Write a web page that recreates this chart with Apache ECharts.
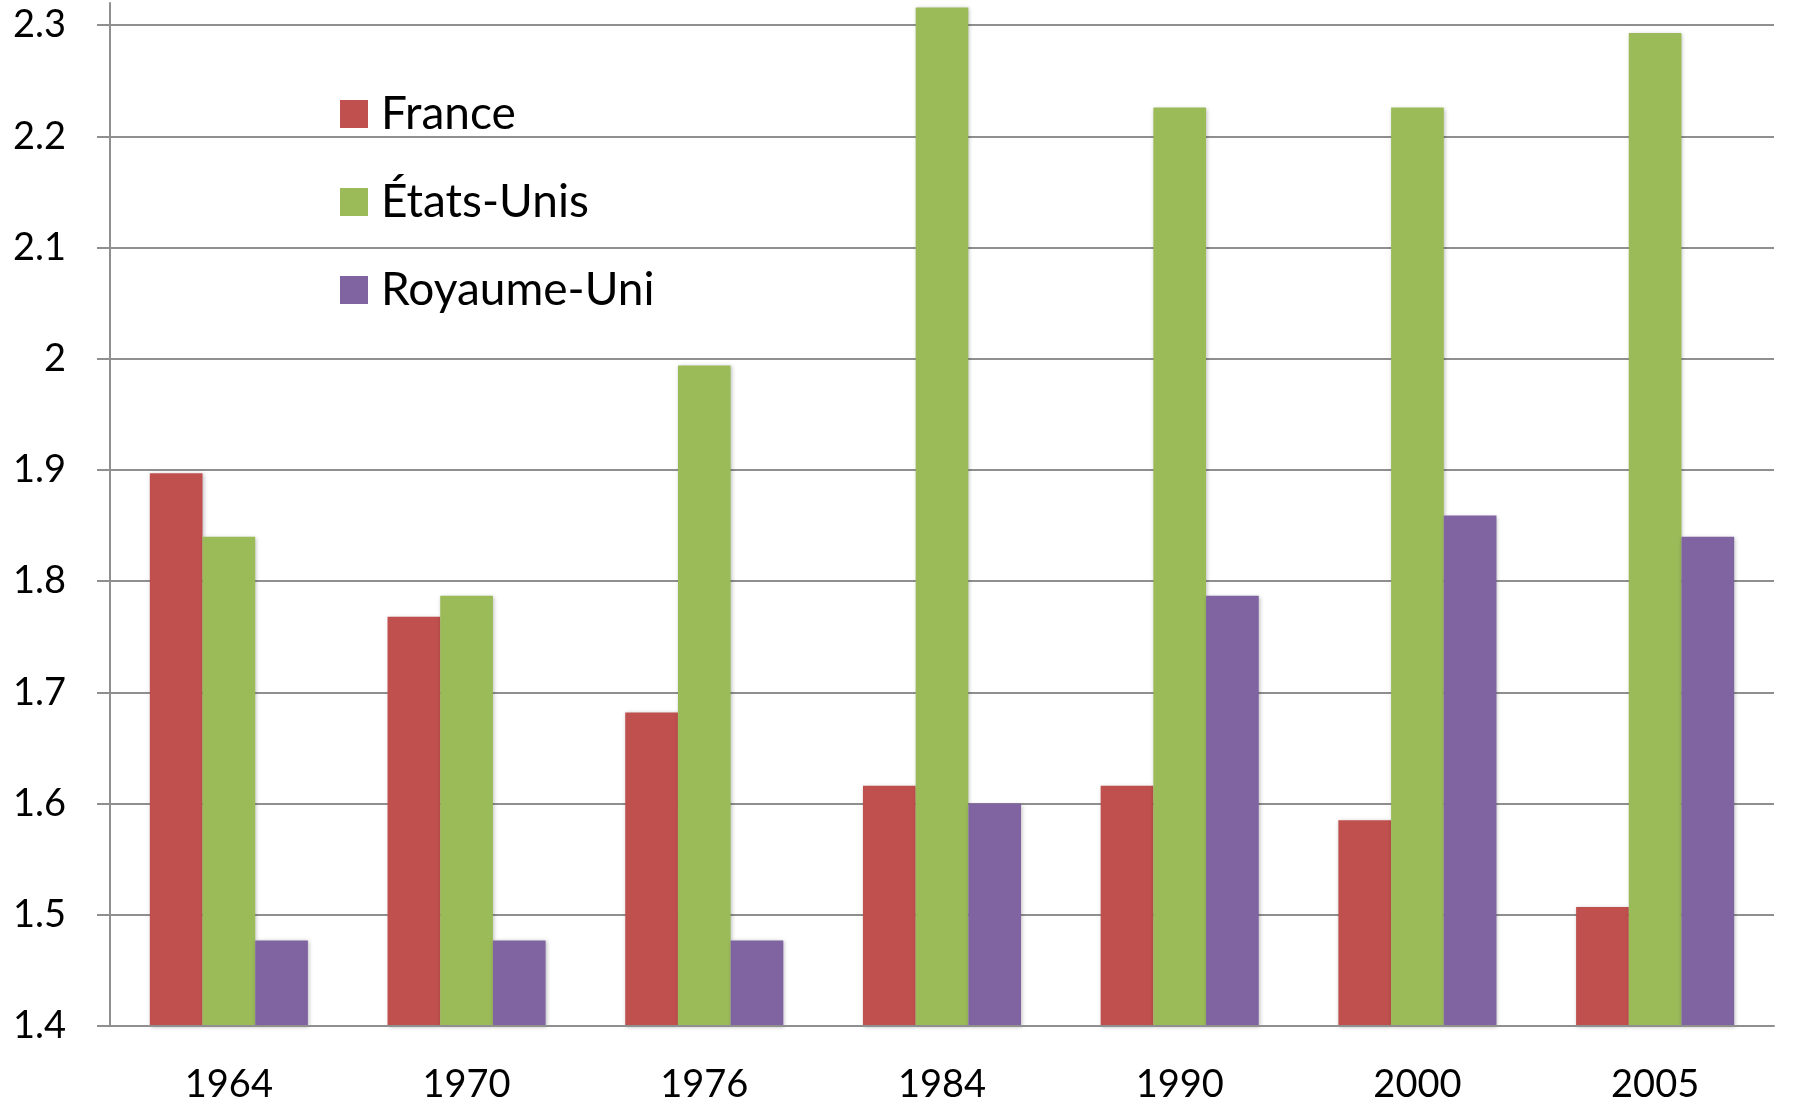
<!DOCTYPE html>
<html>
<head>
<meta charset="utf-8">
<script src="https://cdn.jsdelivr.net/npm/echarts@6/dist/echarts.min.js"></script>
<style>
    html, body { margin: 0; padding: 0; background: #fff; }
    #chart { width: 1797px; height: 1104px; }
</style>
</head>
<body>
<div id="chart"></div>
<script>
// data
const years = ['1964', '1970', '1976', '1984', '1990', '2000', '2005'];
const france = [1.897, 1.768, 1.682, 1.616, 1.616, 1.585, 1.507];
const etatsUnis = [1.84, 1.787, 1.994, 2.316, 2.226, 2.226, 2.293];
const royaumeUni = [1.477, 1.477, 1.477, 1.60, 1.787, 1.859, 1.84];
const yTicks = [1.4, 1.5, 1.6, 1.7, 1.8, 1.9, 2.0, 2.1, 2.2, 2.3];

const gridGray = '#8f8f8f';
const fontFamily = 'Lato, "Open Sans", sans-serif';

function barSeries(name, data, color) {
    return {
        name: name,
        type: 'bar',
        data: data,
        barGap: 0,
        barCategoryGap: '33.5%',
        itemStyle: {
            color: color,
            shadowBlur: 4,
            shadowOffsetX: 1,
            shadowOffsetY: 1,
            shadowColor: 'rgba(0, 0, 0, 0.25)'
        }
    };
}

let chartElem = document.getElementById('chart');
let chart = echarts.init(chartElem);
chart.setOption({
    animation: false,
    textStyle: { fontFamily: fontFamily, color: '#000' },
    // top leaves room so the 2.3 gridline sits at y=25 while the 1984 bar pokes above it
    grid: {
        left: 110,
        right: 23,
        top: 3,
        bottom: 78,
        containLabel: false
    },
    legend: {
        orient: 'vertical',
        left: 340,
        top: 91,
        padding: 0,
        itemWidth: 28,
        itemHeight: 28,
        itemGap: 42,
        icon: 'rect',
        textStyle: {
            fontFamily: fontFamily,
            fontSize: 46,
            color: '#000',
            padding: [0, 0, 0, 8]
        },
        data: ['France', 'États-Unis', 'Royaume-Uni']
    },
    xAxis: {
        type: 'category',
        data: years,
        z: 5,
        axisLine: { lineStyle: { color: gridGray, width: 2 } },
        axisTick: { length: 14, lineStyle: { color: gridGray, width: 2 } },
        axisLabel: {
            fontSize: 38,
            color: '#000',
            margin: 40
        }
    },
    yAxis: {
        type: 'value',
        min: 1.4,
        max: 2.32,
        axisLine: { show: true, lineStyle: { color: gridGray, width: 2 } },
        axisTick: {
            show: true,
            length: 13,
            customValues: yTicks,
            lineStyle: { color: gridGray, width: 2 }
        },
        splitLine: { lineStyle: { color: gridGray, width: 2 } },
        axisLabel: {
            fontSize: 38,
            color: '#000',
            margin: 44,
            customValues: yTicks,
            formatter: function(v) {
                return String(Math.round(v * 10) / 10);
            }
        }
    },
    series: [
        barSeries('France', france, '#C0504D'),
        barSeries('États-Unis', etatsUnis, '#9BBB59'),
        barSeries('Royaume-Uni', royaumeUni, '#8064A2')
    ]
});
</script>
</body>
</html>
